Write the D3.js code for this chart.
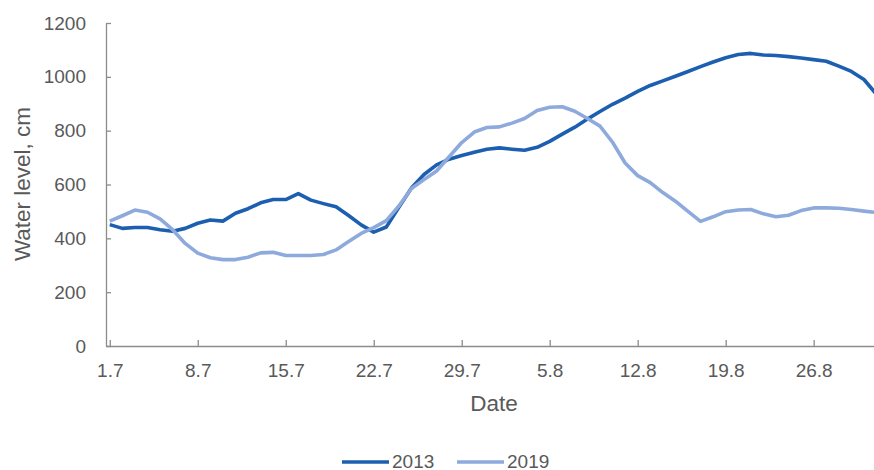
<!DOCTYPE html>
<html lang="en">
  <head>
    <meta charset="utf-8">
    <script src="https://d3js.org/d3.v7.min.js"></script>
    <style>
      body { margin: 0; background: #fff; }
      text { font-family: "Liberation Sans", Arial, sans-serif; fill: #595959; }
    </style>
  </head>
  <body>
    <div id="chart">
      <svg width="874" height="470"></svg>
    </div>
    <script type="text/javascript">
      // Data: one value per day, starting 1 July
      var tickDays = [0, 7, 14, 21, 28, 35, 42, 49, 56];
      var tickLabels = ["1.7", "8.7", "15.7", "22.7", "29.7", "5.8", "12.8", "19.8", "26.8"];
      var yTicks = [0, 200, 400, 600, 800, 1000, 1200];
      var level2013 = [451, 437, 440, 440, 432, 426, 437, 456, 468, 464,
        493, 510, 532, 544, 544, 566, 542, 529, 517, 485,
        450, 423, 442, 515, 587, 637, 673, 694, 708, 720,
        731, 736, 731, 727, 738, 760, 787, 813, 843, 871,
        898, 921, 946, 968, 985, 1002, 1020, 1038, 1055, 1071,
        1083, 1087, 1081, 1079, 1075, 1070, 1064, 1058, 1040, 1020,
        990, 935];
      var level2019 = [464, 484, 505, 497, 472, 432, 381, 345, 328, 321,
        321, 330, 346, 348, 336, 336, 336, 340, 357, 388,
        418, 440, 466, 520, 585, 618, 650, 703, 756, 795,
        812, 814, 828, 845, 875, 887, 889, 872, 845, 817,
        757, 680, 633, 607, 570, 538, 500, 463, 480, 499,
        505, 507, 491, 480, 486, 503, 513, 513, 512, 507,
        501, 496];
      var seriesNames = ["2013", "2019"];
      var seriesColors = ["#1c5fb0", "#8eaadc"];

      // SVG and dimensions
      var svg = d3.select("svg"),
        width = +svg.attr("width"),
        height = +svg.attr("height");
      var margin = {top: 23, right: 0, bottom: 124, left: 106};
      var innerWidth = width - margin.left - margin.right;
      var innerHeight = height - margin.top - margin.bottom;

      // Scales and axes
      var xScale = d3.scaleLinear()
        .domain([-0.3, 60.8])
        .range([0, innerWidth]);
      var yScale = d3.scaleLinear()
        .domain([0, 1200])
        .range([innerHeight, 0]);
      var xAxis = d3.axisBottom(xScale)
        .tickValues(tickDays)
        .tickFormat(function(d, i) { return tickLabels[i]; })
        .tickSizeInner(-6)
        .tickSizeOuter(0)
        .tickPadding(18);
      var yAxis = d3.axisLeft(yScale)
        .tickValues(yTicks)
        .tickFormat(d3.format("d"))
        .tickSizeInner(-5)
        .tickSizeOuter(0)
        .tickPadding(20);

      var g = svg.append("g")
        .attr("transform", `translate(${margin.left},${margin.top})`);

      var gx = g.append("g")
        .attr("transform", `translate(0,${innerHeight})`)
        .call(xAxis);
      var gy = g.append("g")
        .call(yAxis);
      [gx, gy].forEach(function(ax) {
        ax.attr("font-family", null);
        ax.selectAll("path, line")
          .attr("stroke", "#8c8c8c")
          .attr("stroke-width", 1.3);
        ax.selectAll("text")
          .attr("font-size", 19)
          .style("fill", "#595959");
      });

      // Lines
      var line = d3.line()
        .x(function(d, i) { return xScale(i); })
        .y(function(d) { return yScale(d); });
      [level2013, level2019].forEach(function(values, k) {
        g.append("path")
          .datum(values)
          .attr("fill", "none")
          .attr("stroke", seriesColors[k])
          .attr("stroke-width", 3.6)
          .attr("stroke-linejoin", "round")
          .attr("d", line);
      });

      // Axis titles
      svg.append("text")
        .attr("x", 494)
        .attr("y", 411)
        .attr("text-anchor", "middle")
        .attr("font-size", 22.5)
        .text("Date");
      svg.append("text")
        .attr("transform", "translate(30,184) rotate(-90)")
        .attr("text-anchor", "middle")
        .attr("font-size", 22.5)
        .text("Water level, cm");

      // Legend
      var legendX = [342, 457];
      seriesNames.forEach(function(name, k) {
        svg.append("line")
          .attr("x1", legendX[k])
          .attr("x2", legendX[k] + 47)
          .attr("y1", 462)
          .attr("y2", 462)
          .attr("stroke", seriesColors[k])
          .attr("stroke-width", 3.6);
        svg.append("text")
          .attr("x", legendX[k] + 50)
          .attr("y", 468)
          .attr("font-size", 19)
          .text(name);
      });
    </script>
  </body>
</html>
